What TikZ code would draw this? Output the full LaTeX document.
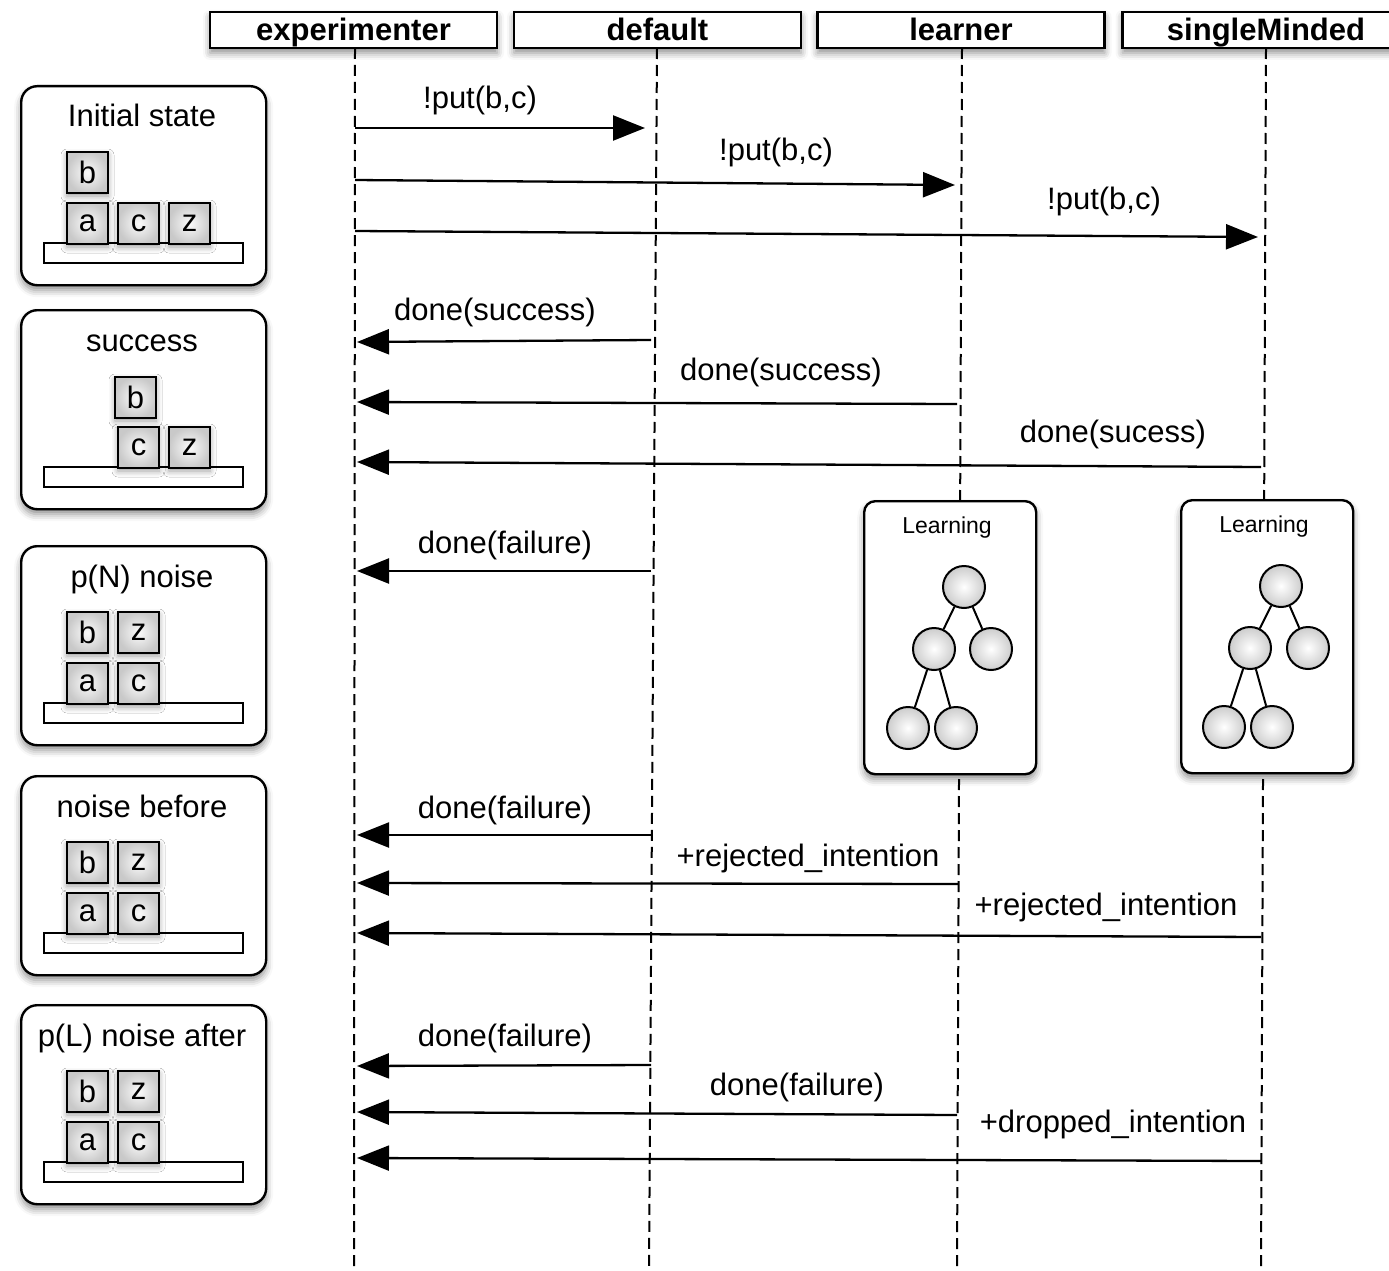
\documentclass[tikz,border=0pt]{standalone}
\usepackage{fontspec}
\setmainfont{Liberation Sans}
\usetikzlibrary{arrows.meta,shadows.blur}

\begin{document}
\begin{tikzpicture}[x=1pt,y=-1pt,
  font=\fontsize{31}{36}\selectfont,
  softshadow/.style={blur shadow={shadow xshift=0pt,shadow yshift=-5pt,shadow blur radius=7pt,shadow opacity=45}},
  header/.style={draw,line width=2.4pt,fill=white,minimum width=287pt,minimum height=36pt,inner sep=0pt,
    text height=23pt,text depth=1pt,font=\fontsize{31}{36}\selectfont\bfseries,softshadow},
  lifeline/.style={line width=2pt,dash pattern=on 11pt off 6pt},
  msg/.style={line width=2.3pt,-{Triangle[length=32pt,width=25pt]}},
  lbl/.style={inner sep=0pt},
  statebox/.style={draw,line width=2.4pt,fill=white,rounded corners=16pt,minimum width=245pt,
    minimum height=199pt,anchor=north west,softshadow},
  boxtitle/.style={anchor=base,inner sep=0pt},
  blk/.style={draw,line width=2pt,minimum size=41pt,inner sep=0pt,anchor=north west,
    shading=radial,inner color=gray!3,outer color=gray!42,
    blur shadow={shadow xshift=0pt,shadow yshift=-3pt,shadow blur radius=6pt,shadow opacity=40}},
  shelf/.style={draw,line width=2pt,fill=white,minimum width=199pt,minimum height=20pt,inner sep=0pt,anchor=north west},
  learnbox/.style={draw,line width=2.4pt,fill=white,rounded corners=11pt,minimum width=172pt,
    minimum height=273pt,anchor=north west,softshadow},
  learntitle/.style={inner sep=0pt,font=\fontsize{23}{27}\selectfont},
  tnode/.style={circle,draw,line width=2pt,minimum size=42pt,inner sep=0pt,
    shading=radial,inner color=white,outer color=gray!40},
  tedge/.style={line width=2pt}
]
\useasboundingbox (0,0) rectangle (1389,1271);
\clip (0,0) rectangle (1389,1271);

% lifelines
\coordinate (exp-top) at (355,48);  \coordinate (exp-bot) at (354,1271);
\coordinate (def-top) at (657,48);  \coordinate (def-bot) at (649,1271);
\coordinate (lrn-top) at (962,48);  \coordinate (lrn-bot) at (957,1271);
\coordinate (sm-top)  at (1266,48); \coordinate (sm-bot)  at (1261,1271);
\foreach \l in {exp,def,lrn,sm} \draw[lifeline] (\l-top) -- (\l-bot);

% participant headers
\node[header] (hexp) at (353.5,30) {experimenter};
\node[header] (hdef) at (657.5,30) {default};
\node[header] (hlrn) at (961,30)   {learner};
\node[header] (hsm)  at (1266,30)  {singleMinded};

% block-world states
\begin{scope}[shift={(0,85)}]
  \node[statebox] (st1) at (20,0) {};
  \node[boxtitle] (st1t) at (142,42) {Initial state};
  \node[shelf] (st1s) at (43,157) {};
  \node[blk] (st1b) at (66,66) {b};
  \node[blk] (st1a) at (66,117) {a};
  \node[blk] (st1c) at (117,117) {c};
  \node[blk] (st1z) at (168,117) {z};
\end{scope}
\begin{scope}[shift={(0,309)}]
  \node[statebox] (st2) at (20,0) {};
  \node[boxtitle] (st2t) at (142,42) {success};
  \node[shelf] (st2s) at (43,157) {};
  \node[blk] (st2b) at (114,67) {b};
  \node[blk] (st2c) at (117,117) {c};
  \node[blk] (st2z) at (168,117) {z};
\end{scope}
\foreach \n/\top/\title in {3/545/p(N) noise,4/775/noise before,5/1004/p(L) noise after}{
  \begin{scope}[shift={(0,\top)}]
    \node[statebox] (st\n) at (20,0) {};
    \node[boxtitle] (st\n t) at (142,42) {\title};
    \node[shelf] (st\n s) at (43,157) {};
    \node[blk] (st\n b) at (66,66) {b};
    \node[blk] (st\n z) at (117,66) {z};
    \node[blk] (st\n a) at (66,117) {a};
    \node[blk] (st\n c) at (117,117) {c};
  \end{scope}
}

% learning boxes with decision trees
\node[learnbox] (lb1) at (863,500) {};
\node[learntitle] (lb1t) at (947,528) {Learning};
\node[tnode] (lb1r)  at (964,587) {};
\node[tnode] (lb1l)  at (934,649) {};
\node[tnode] (lb1rr) at (991,649) {};
\node[tnode] (lb1ll) at (908,728) {};
\node[tnode] (lb1lr) at (956,728) {};
\draw[tedge] (lb1r) -- (lb1l) (lb1r) -- (lb1rr) (lb1l) -- (lb1ll) (lb1l) -- (lb1lr);

\node[learnbox] (lb2) at (1180,499) {};
\node[learntitle] (lb2t) at (1264,527) {Learning};
\node[tnode] (lb2r)  at (1281,586) {};
\node[tnode] (lb2l)  at (1250,648) {};
\node[tnode] (lb2rr) at (1308,648) {};
\node[tnode] (lb2ll) at (1224,727) {};
\node[tnode] (lb2lr) at (1272,727) {};
\draw[tedge] (lb2r) -- (lb2l) (lb2r) -- (lb2rr) (lb2l) -- (lb2ll) (lb2l) -- (lb2lr);

% messages
\foreach \n/\xa/\ya/\xb/\yb in {
   1/355/128/645/128, 2/355/180/955/185, 3/355/231/1258/237,
   4/651/340/357/342, 5/957/404/357/402, 6/1261/467/357/462,
   7/651/571/357/571, 8/651/835/357/835, 9/958/884/357/883,
   10/1261/937/357/933, 11/651/1065/357/1066, 12/957/1115/357/1112,
   13/1261/1161/357/1158}{
  \coordinate (m\n a) at (\xa,\ya);
  \coordinate (m\n b) at (\xb,\yb);
  \draw[msg] (m\n a) -- (m\n b);
}

% message labels
\node[lbl] (t1)  at (480,100)  {!put(b,c)};
\node[lbl] (t2)  at (776,152)  {!put(b,c)};
\node[lbl] (t3)  at (1104,201) {!put(b,c)};
\node[lbl] (t4)  at (495,312)  {done(success)};
\node[lbl] (t5)  at (781,372)  {done(success)};
\node[lbl] (t6)  at (1113,434) {done(sucess)};
\node[lbl] (t7)  at (505,545)  {done(failure)};
\node[lbl] (t8)  at (505,810)  {done(failure)};
\node[lbl] (t9)  at (808,858)  {+rejected\_intention};
\node[lbl] (t10) at (1106,907) {+rejected\_intention};
\node[lbl] (t11) at (505,1038) {done(failure)};
\node[lbl] (t12) at (797,1087) {done(failure)};
\node[lbl] (t13) at (1113,1124) {+dropped\_intention};
\end{tikzpicture}
\end{document}
